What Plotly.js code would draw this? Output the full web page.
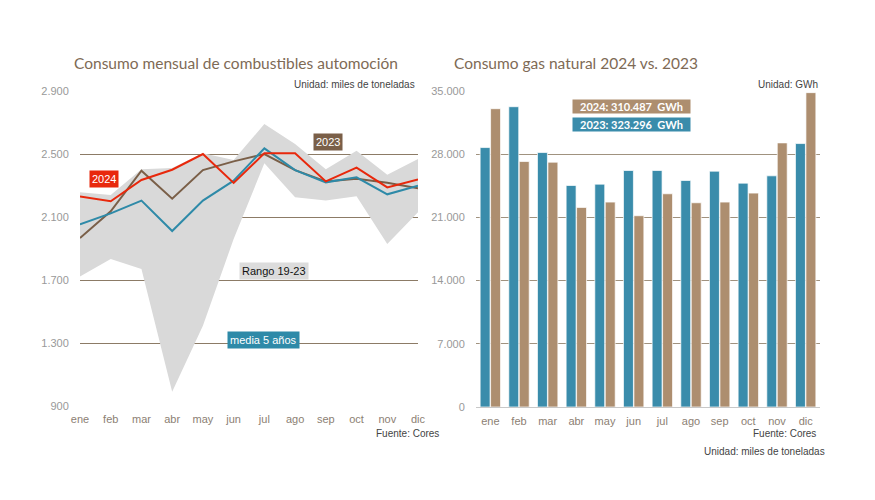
<!DOCTYPE html>
<html>
<head>
<meta charset="utf-8">
<script src="https://cdn.plot.ly/plotly-3.0.1.min.js"></script>
<style>html,body{margin:0;padding:0;background:#fff;}#chart{width:875px;height:500px;}</style>
</head>
<body>
<div id="chart"></div>
<script>
const months = ['ene','feb','mar','abr','may','jun','jul','ago','sep','oct','nov','dic'];

// Combustibles automoción (miles de toneladas)
const rangoMin = [1723,1833,1770,991,1410,1960,2441,2225,2204,2231,1929,2130];
const rangoMax = [2257,2240,2403,2411,2504,2462,2690,2563,2403,2521,2369,2468];
const media5 = [2053,2123,2204,2011,2204,2331,2536,2398,2320,2352,2244,2299];
const comb2023 = [1967,2136,2394,2216,2398,2453,2500,2398,2326,2343,2318,2282];
const comb2024 = [2231,2200,2335,2400,2500,2316,2504,2504,2326,2413,2288,2339];

// Gas natural (GWh)
const gas2023 = [28737,33260,28184,24537,24684,26195,26195,25090,26121,24795,25605,29179];
const gas2024 = [33040,27189,27116,22105,22695,21184,23616,22621,22695,23690,29253,34820];

const cRed = '#e8280c', cBrown = '#7a5f48', cTeal = '#2e8aa8', cBand = '#d9d9d9';
const cBar23 = '#3a8cab', cBar24 = '#ad8e6f';
const tickFont = {family:'Liberation Sans, Arial, sans-serif', size:11, color:'#8c8073'};
const yTickFont = {family:'Liberation Sans, Arial, sans-serif', size:11, color:'#999999'};
const titleFont = {family:'Lato, Open Sans, sans-serif', size:15.5, color:'#7e6a55'};
const smallFont = {family:'Liberation Sans, Arial, sans-serif', size:10, color:'#444444'};

const traces = [
  {x: months, y: rangoMin, type:'scatter', mode:'lines', line:{width:0, color:cBand}, xaxis:'x', yaxis:'y', hoverinfo:'skip', showlegend:false},
  {x: months, y: rangoMax, type:'scatter', mode:'lines', fill:'tonexty', fillcolor:cBand, line:{width:0, color:cBand}, xaxis:'x', yaxis:'y', showlegend:false},
  {x: months, y: comb2023, type:'scatter', mode:'lines', line:{width:2, color:cBrown}, xaxis:'x', yaxis:'y', showlegend:false},
  {x: months, y: media5, type:'scatter', mode:'lines', line:{width:2, color:cTeal}, xaxis:'x', yaxis:'y', showlegend:false},
  {x: months, y: comb2024, type:'scatter', mode:'lines', line:{width:2, color:cRed}, xaxis:'x', yaxis:'y', showlegend:false},
  {x: months, y: gas2023, type:'bar', marker:{color:cBar23, line:{color:'rgba(255,255,255,0.7)', width:1}}, xaxis:'x2', yaxis:'y2', showlegend:false},
  {x: months, y: gas2024, type:'bar', marker:{color:cBar24, line:{color:'rgba(255,255,255,0.7)', width:1}}, xaxis:'x2', yaxis:'y2', showlegend:false}
];

const W = 875, H = 500;
const px = v => v / W, py = v => 1 - v / H;
const lab = (text, x, y, bg, fc) => ({text:text, xref:'x', yref:'y', x:x, y:y, xanchor:'center', yanchor:'middle', showarrow:false, bgcolor:bg, borderpad:2,
  font:{family:'Liberation Sans, Arial, sans-serif', size:11, color:fc}});

const layout = {
  width: W, height: H,
  margin: {l:0, r:0, t:0, b:0},
  paper_bgcolor:'#ffffff', plot_bgcolor:'rgba(0,0,0,0)',
  separators: ',.',
  showlegend:false,
  barmode:'group', bargap:0.27, bargroupgap:0.05,
  xaxis: {domain:[px(80), px(418)], type:'category', range:[0, 11], showgrid:false, zeroline:false, showline:false,
          tickfont:tickFont, ticks:'outside', ticklen:3, tickcolor:'rgba(0,0,0,0)', fixedrange:true},
  yaxis: {domain:[py(406), py(91)], range:[900, 2900], tickvals:[900,1300,1700,2100,2500,2900], tickformat:',d',
          showgrid:true, gridcolor:'#8c7b66', gridwidth:1, zeroline:false, showline:false,
          tickfont:yTickFont, ticks:'outside', ticklen:8, tickcolor:'rgba(0,0,0,0)', fixedrange:true},
  xaxis2: {domain:[px(476), px(820)], anchor:'y2', type:'category', showgrid:false, zeroline:false, showline:false,
          tickfont:tickFont, ticks:'outside', ticklen:4, tickcolor:'rgba(0,0,0,0)', fixedrange:true},
  yaxis2: {domain:[py(407), py(91)], anchor:'x2', range:[0, 35000], dtick:7000, tickformat:',d',
          showgrid:true, gridcolor:'#a0927f', gridwidth:1, zeroline:true, zerolinecolor:'#c8c8c8', zerolinewidth:1, showline:false,
          tickfont:yTickFont, ticks:'outside', ticklen:8, tickcolor:'rgba(0,0,0,0)', fixedrange:true},
  annotations: [
    {text:'Consumo mensual de combustibles automoción', xref:'paper', yref:'paper', x:px(72), y:py(63), xanchor:'left', yanchor:'middle', showarrow:false, font:titleFont},
    {text:'Consumo gas natural 2024 vs. 2023', xref:'paper', yref:'paper', x:px(452), y:py(63), xanchor:'left', yanchor:'middle', showarrow:false, font:titleFont},
    {text:'Unidad: miles de toneladas', xref:'paper', yref:'paper', x:px(417), y:py(84), xanchor:'right', yanchor:'middle', showarrow:false, font:smallFont},
    {text:'Fuente: Cores', xref:'paper', yref:'paper', x:px(441), y:py(433), xanchor:'right', yanchor:'middle', showarrow:false, font:smallFont},
    {text:'Unidad: GWh', xref:'paper', yref:'paper', x:px(820), y:py(84), xanchor:'right', yanchor:'middle', showarrow:false, font:smallFont},
    {text:'Fuente: Cores', xref:'paper', yref:'paper', x:px(818), y:py(433), xanchor:'right', yanchor:'middle', showarrow:false, font:smallFont},
    {text:'Unidad: miles de toneladas', xref:'paper', yref:'paper', x:px(827), y:py(451), xanchor:'right', yanchor:'middle', showarrow:false, font:smallFont},
    lab('2024', 0.78, 2341, cRed, '#ffffff'),
    lab('2023', 8.07, 2579, cBrown, '#ffffff'),
    lab('Rango 19-23', 6.31, 1760, '#dcdcdc', '#111111'),
    lab('media 5 años', 5.97, 1322, cTeal, '#ffffff'),
    {text:'<b>2024: 310.487  GWh</b>', xref:'paper', yref:'paper', x:px(631), y:py(106.5), xanchor:'center', yanchor:'middle', showarrow:false, bgcolor:cBar24, width:115, height:11, borderpad:1, font:{family:'Lato, Open Sans, sans-serif', size:11, color:'#ffffff'}},
    {text:'<b>2023: 323.296  GWh</b>', xref:'paper', yref:'paper', x:px(631), y:py(124.5), xanchor:'center', yanchor:'middle', showarrow:false, bgcolor:cBar23, width:115, height:11, borderpad:1, font:{family:'Lato, Open Sans, sans-serif', size:11, color:'#ffffff'}}
  ]
};

Plotly.newPlot('chart', traces, layout, {displayModeBar:false, staticPlot:true});
</script>
</body>
</html>
